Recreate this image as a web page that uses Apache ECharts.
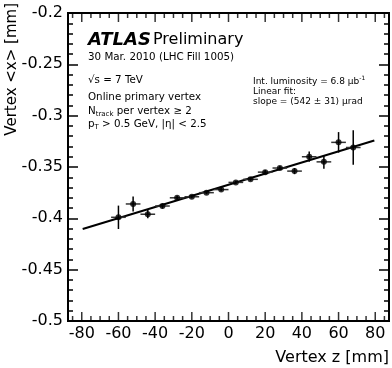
<!DOCTYPE html>
<html>
<head>
<meta charset="utf-8">
<script src="https://cdn.jsdelivr.net/npm/echarts@6/dist/echarts.min.js"></script>
<style>
  html, body { margin: 0; padding: 0; background: #fff; }
  #chart { width: 392px; height: 368px; }
</style>
</head>
<body>
<div id="chart"></div>
<script>
// vertex z bin centres [mm], mean vertex x [mm] and errors
const zValues = [-60, -52, -44, -36, -28, -20, -12, -4, 4, 12, 20, 28, 36, 44, 52, 60, 68];
const xValues = [-0.399, -0.386, -0.396, -0.388, -0.380, -0.379, -0.375, -0.372, -0.365,
  -0.362, -0.355, -0.351, -0.354, -0.340, -0.345, -0.326, -0.331];
const zErrors = [4, 4, 4, 4, 4, 4, 4, 4, 4, 4, 4, 4, 4, 4, 4, 4, 4];
const xErrors = [0.0114, 0.0073, 0.004, 0.0025, 0.002, 0.0015, 0.0015, 0.0015, 0.0015,
  0.0015, 0.002, 0.002, 0.003, 0.005, 0.0066, 0.010, 0.0167];

// linear fit end points
const fitZ = [-79.5, 79.5];
const fitX = [-0.4104, -0.3242];

// z axis ticks
const zMajorTicks = [-80, -60, -40, -20, 0, 20, 40, 60, 80];
const zMinorTicks = [-85, -75, -70, -65, -55, -50, -45, -35, -30, -25, -15, -10, -5,
  5, 10, 15, 25, 30, 35, 45, 50, 55, 65, 70, 75, 85];

const zMin = -87.5, zMax = 87.5;
const xMin = -0.5, xMax = -0.2;

const FONT = 'DejaVu Sans';
const black = '#000';

const chart = echarts.init(document.getElementById('chart'));

function xAxis(position, labels) {
  return {
    type: 'value',
    position: position,
    min: xMin,
    max: xMax,
    interval: 0.05,
    axisLine: { show: false, onZero: false },
    splitLine: { show: false },
    axisTick: { show: true, inside: true, length: 10, lineStyle: { color: black, width: 1.5 } },
    minorTick: { show: true, splitNumber: 5, length: 5, lineStyle: { color: black, width: 1.5 } },
    axisLabel: labels
      ? { show: true, color: black, fontSize: 16, fontFamily: FONT, margin: 5 }
      : { show: false },
  };
}

// z ticks drawn as thin rect symbols sitting on the bottom and top frame
function zTickSeries(ticks, atX, len, dir) {
  return {
    type: 'scatter',
    silent: true,
    clip: false,
    data: ticks.map(v => [v, atX]),
    symbol: 'rect',
    symbolSize: [1.5, len],
    symbolOffset: [0, dir * len / 2],
    itemStyle: { color: black },
    z: 10,
  };
}

chart.setOption({
  animation: false,
  grid: {
    left: 68, right: 3, top: 13, bottom: 47,
    show: true, borderColor: black, borderWidth: 2,
  },
  xAxis: {
    type: 'value', min: zMin, max: zMax, position: 'bottom',
    axisLine: { show: false, onZero: false },
    axisTick: { show: false },
    splitLine: { show: false },
    axisLabel: { show: true, customValues: zMajorTicks, color: black, fontSize: 16, fontFamily: FONT, margin: 5 },
  },
  yAxis: [xAxis('left', true), xAxis('right', false)],
  series: [
    zTickSeries(zMajorTicks, xMin, 9, -1),
    zTickSeries(zMinorTicks, xMin, 5, -1),
    zTickSeries(zMajorTicks, xMax, 9, 1),
    zTickSeries(zMinorTicks, xMax, 5, 1),
    {
      type: 'line',
      data: fitZ.map((z, i) => [z, fitX[i]]),
      showSymbol: false,
      lineStyle: { color: black, width: 2 },
      z: 2,
    },
    {
      type: 'custom',
      encode: { x: 0, y: 1 },
      data: zValues.map((z, i) => [z, xValues[i], zErrors[i], xErrors[i]]),
      renderItem: function (params, api) {
        const z = api.value(0), x = api.value(1), ez = api.value(2), ex = api.value(3);
        const l = api.coord([z - ez, x]), r = api.coord([z + ez, x]);
        const t = api.coord([z, x + ex]), b = api.coord([z, x - ex]);
        return {
          type: 'group',
          children: [
            { type: 'line', shape: { x1: l[0], y1: l[1], x2: r[0], y2: r[1] }, style: { stroke: '#333', lineWidth: 1.5 } },
            { type: 'line', shape: { x1: t[0], y1: t[1], x2: b[0], y2: b[1] }, style: { stroke: black, lineWidth: 1.5 } },
          ],
        };
      },
      z: 3,
    },
    {
      type: 'scatter',
      data: zValues.map((z, i) => [z, xValues[i]]),
      symbol: 'circle',
      symbolSize: 6,
      itemStyle: { color: black },
      z: 4,
    },
  ],
  graphic: [
    // axis titles
    { type: 'text', x: 389, y: 358, style: { text: 'Vertex z [mm]', fill: black, font: '16px ' + FONT, align: 'right', verticalAlign: 'middle' } },
    { type: 'text', x: 12, y: 3, rotation: Math.PI / 2, style: { text: 'Vertex <x> [mm]', fill: black, font: '15px ' + FONT, align: 'right', verticalAlign: 'middle' } },
    // ATLAS label
    { type: 'text', x: 88, y: 40, style: { text: 'ATLAS', fill: black, font: 'italic bold 18px ' + FONT, verticalAlign: 'middle' } },
    { type: 'text', x: 153, y: 40, style: { text: 'Preliminary', fill: black, font: '16px ' + FONT, verticalAlign: 'middle' } },
    { type: 'text', x: 88, y: 57, style: { text: '30 Mar. 2010 (LHC Fill 1005)', fill: black, font: '10.3px ' + FONT, verticalAlign: 'middle' } },
    { type: 'text', x: 88, y: 80, style: { text: '√s = 7 TeV', fill: black, font: '10.3px ' + FONT, verticalAlign: 'middle' } },
    { type: 'text', x: 88, y: 97, style: { text: 'Online primary vertex', fill: black, font: '10.3px ' + FONT, verticalAlign: 'middle' } },
    {
      type: 'text', x: 88, y: 111,
      style: {
        text: '{n|N}{s|track}{n| per vertex ≥ 2}', fill: black, verticalAlign: 'middle',
        rich: {
          n: { fontSize: 10.3, fontFamily: FONT, fill: black },
          s: { fontSize: 7, fontFamily: FONT, fill: black, padding: [7, 0, 0, 0] },
        },
      },
    },
    {
      type: 'text', x: 88, y: 124,
      style: {
        text: '{n|p}{s|T}{n| > 0.5 GeV, |η| < 2.5}', fill: black, verticalAlign: 'middle',
        rich: {
          n: { fontSize: 10.3, fontFamily: FONT, fill: black },
          s: { fontSize: 7, fontFamily: FONT, fill: black, padding: [7, 0, 0, 0] },
        },
      },
    },
    {
      type: 'text', x: 253, y: 82,
      style: {
        text: '{n|Int. luminosity = 6.8 µb}{s|-1}', fill: black, verticalAlign: 'middle',
        rich: {
          n: { fontSize: 9, fontFamily: FONT, fill: black },
          s: { fontSize: 6, fontFamily: FONT, fill: black, padding: [0, 0, 7, 0] },
        },
      },
    },
    { type: 'text', x: 253, y: 92, style: { text: 'Linear fit:', fill: black, font: '9px ' + FONT, verticalAlign: 'middle' } },
    { type: 'text', x: 253, y: 102, style: { text: 'slope = (542 ± 31) µrad', fill: black, font: '9px ' + FONT, verticalAlign: 'middle' } },
  ],
});
</script>
</body>
</html>
